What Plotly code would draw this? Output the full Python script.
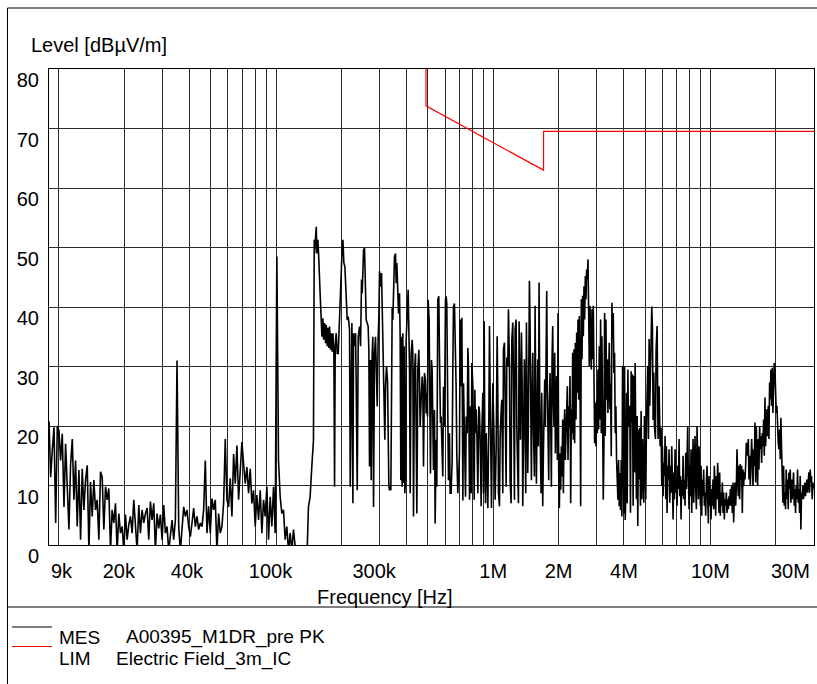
import math
import plotly.graph_objects as go

FONT = "Liberation Sans, Arial, Helvetica, sans-serif"

# ---------------- measurement trace (MES), frequency in kHz, level in dBuV/m ----------------
mes_f1 = [9.00, 9.16, 9.32, 9.49, 9.66, 9.83, 10.00, 10.18, 10.36, 10.55,
          10.73, 10.92, 11.12, 11.31, 11.52, 11.72, 11.93, 12.14, 12.36, 12.58,
          12.80, 13.03, 13.26, 13.50, 13.74, 13.98, 14.23, 14.48, 14.74, 15.00,
          15.27, 15.54, 15.82, 16.10, 16.39, 16.68, 16.97, 17.28, 17.58, 17.89,
          18.21, 18.54, 18.87, 19.20, 19.55, 19.89, 20.25, 20.61, 20.97, 21.35,
          21.73, 22.11, 22.51, 22.91, 23.32, 23.73, 24.15, 24.58, 25.02, 25.47,
          25.92, 26.38, 26.85, 27.33, 27.81, 28.31, 28.81, 29.33, 29.85, 30.38,
          30.92, 31.47, 32.03, 32.60, 33.18, 33.77, 34.37, 34.98, 35.61, 36.24,
          36.88, 37.54, 38.21, 38.89, 39.58, 40.28, 41.00, 41.73, 42.47, 43.23,
          44.00, 44.78, 45.58, 46.39, 47.21, 48.05]
mes_l1 = [20.8, 11.4, 15.9, 19.8, 3.7, 20.0, 19.2, 14.2, 18.7, 6.4,
          17.0, 10.9, 2.6, 13.4, 17.8, 7.6, 14.2, 3.1, 12.6, 0.9,
          12.8, 5.9, 10.9, 13.4, -1, 10.6, 4.8, 10.9, 5.9, 7.6,
          0.9, 12.3, 11.4, 2.6, 9.8, 7.6, 9.5, -1, 5.9, 3.7,
          7.0, -1, 5.3, 2.0, 3.1, -1, 5.1, 0.9, 3.4, 4.8,
          2.0, 7.6, 3.1, -1, 6.7, 2.0, 5.9, 3.7, 5.3, 6.2,
          0.9, 7.3, 4.2, 7.0, -1, 5.3, 2.8, 5.1, 0.9, 6.7,
          2.0, 3.1, -1, 1.4, 4.2, 0.9, 4.2, 31.0, 3.0, -1,
          2.6, 6.4, 4.8, 5.9, 3.1, 1.4, 3.7, 6.2, 3.1, 4.8,
          2.6, 3.7, 3.1, 5.9, 14.2, 2.0]

mes_f2 = [48.90, 49.77, 50.66, 51.56, 52.48, 53.41, 54.36, 55.33, 56.32, 57.32,
          58.34, 59.38, 60.44, 61.51, 62.61, 63.72, 64.86, 66.01, 67.19, 68.38,
          69.60, 70.84, 72.10, 73.38, 74.69, 76.02, 77.37, 78.75, 80.15, 81.58,
          83.03, 84.51, 86.01, 87.54, 89.10, 90.69, 92.30, 93.94, 95.61, 97.31,
          99.05, 100.81, 102.60, 104.43, 106.29, 108.18, 110.10, 112.06, 114.06, 116.09,
          118.15, 120.25, 122.39, 124.57, 126.79, 138.49, 140.96, 143.47, 146.02, 148.62]
mes_l2 = [6.5, 2.0, 7.8, 5.9, 7.6, -1, 5.3, 2.0, 3.1, 7.0,
          17.8, 7.6, 6.4, 11.2, 4.8, 15.3, 10.3, 16.7, 7.6, 13.7,
          17.3, 13.7, 10.3, 13.1, 8.7, 12.8, 7.0, 9.2, 3.1, 8.4,
          4.2, 9.2, 2.0, 7.6, 4.8, 9.8, 0.9, 8.1, 3.1, 9.8,
          2.0, 48.5, 14.2, 8.1, 5.3, 5.9, 0.9, 3.1, -1, 2.0,
          -1, 2.6, -1, -3, -3, -3, 6.4, 8.1, 13.1, 17.6]

mes_f3 = [149.9, 150.4, 152.0, 153.1, 154.2, 155.8, 156.9, 158.6, 159.7, 161.4,
          162.6, 164.3, 165.5, 167.2, 169.0, 170.2, 172.0, 173.2, 175.1, 176.3,
          178.2, 179.4, 181.3, 182.7, 184.6, 185.9, 187.2, 189.2, 191.2, 193.3,
          194.6, 196.0, 199.5, 201.6, 203.1, 205.2, 207.4, 210.4, 212.6, 214.9,
          217.9, 219.5, 221.8, 223.4, 225.8, 227.4, 229.8, 232.3, 233.9, 236.4,
          238.9, 240.6, 242.3, 244.9, 247.5, 249.2, 251.0, 252.8, 255.4, 257.2,
          260.0, 262.8, 265.5, 267.4, 269.3, 272.2, 274.1, 277.0, 279.0, 281.0,
          284.0, 287.0, 289.1, 292.2, 295.3, 297.4, 299.5, 302.7, 305.9, 308.0,
          310.2, 313.5, 316.8, 319.1, 322.5, 326.0, 328.3, 330.6, 332.9, 335.3,
          337.7, 340.1, 342.5, 344.9, 348.6, 351.0, 354.8, 357.3, 359.8, 363.7,
          366.3, 370.1, 372.7, 375.4, 378.0, 380.7, 383.4, 386.1, 388.8, 391.6,
          394.4, 397.2, 401.4, 405.7, 408.6, 411.5, 414.4, 418.8, 423.3, 426.3,
          429.3, 433.9, 438.5, 441.6, 444.8, 449.5, 454.3, 457.5, 460.7, 465.6,
          470.6, 473.9, 477.3, 482.4, 487.5, 491.0, 494.5, 498.0, 501.5, 506.8,
          510.4, 514.0, 519.5, 523.2, 526.9, 530.6, 536.3, 540.1, 545.8, 549.7,
          555.5, 561.4, 565.4, 571.4, 575.5, 581.6, 585.8, 590.0, 596.2, 602.6,
          606.8, 611.1, 617.6, 622.0, 628.6, 633.1, 639.8, 646.6, 651.2, 655.8,
          662.8, 667.5, 674.6, 679.4, 686.6, 693.9, 698.8]
mes_l3 = [51.3, 49.0, 51.8, 53.5, 49.0, 51.3, 49.0, 42.9, 41.8, 37.8,
          35.0, 38.1, 34.5, 37.3, 33.9, 37.0, 33.4, 36.5, 33.1, 36.7,
          32.8, 35.6, 32.5, 35.6, 32.2, 9.8, 33.4, 35.6, 32.2, 32.2,
          35.0, 40.0, 46.8, 50.2, 51.3, 47.4, 46.8, 39.5, 37.8, 38.4,
          36.2, 9.8, 36.7, 37.3, 7.0, 35.6, 33.4, 35.6, 26.6, 9.2,
          35.0, 36.2, 36.7, 33.4, 44.6, 42.3, 46.2, 49.6, 49.9, 44.0,
          37.8, 37.3, 36.7, 32.8, 13.2, 31.1, 10.9, 32.2, 35.0, 6.4,
          32.2, 35.0, 31.1, 23.3, 35.0, 38.4, 46.0, 43.4, 45.7, 39.0,
          32.2, 29.4, 17.7, 26.6, 30.0, 27.7, 11.5, 9.8, 9.2, 9.8,
          9.2, 36.7, 40.0, 37.8, 45.1, 48.5, 49.0, 44.0, 47.4, 40.6,
          38.9, 42.3, 35.0, 10.9, 35.0, 9.8, 35.6, 10.4, 33.4, 8.7,
          10.9, 34.5, 40.6, 42.9, 36.2, 30.0, 8.7, 32.2, 34.5, 32.2,
          4.8, 29.4, 32.2, 22.7, 5.3, 29.4, 32.8, 27.7, 19.9, 24.4,
          28.3, 26.6, 13.2, 28.9, 27.7, 22.1, 25.5, 21.6, 41.2, 37.8,
          22.1, 12.0, 31.1, 29.4, 21.0, 12.6, 22.7, 3.6, 17.7, 9.8,
          41.2, 41.8, 32.2, 20.5, 21.6, 15.4, 11.5, 26.6, 19.9, 41.2,
          41.8, 40.6, 23.8, 10.9, 18.8, 8.7, 8.7, 14.2, 28.9, 40.0,
          40.6, 36.7, 26.6, 15.4, 8.7, 12.0, 15.4]

mes_f4 = [704.5, 712.0, 717.0, 724.7, 729.8, 737.6, 745.4, 750.7, 758.7, 764.1,
          769.5, 777.7, 783.2, 791.5, 797.1, 805.6, 811.3, 817.0, 822.8, 828.6,
          834.5, 840.4, 849.4, 858.4, 864.5, 870.6, 879.9, 886.1, 895.6, 902.0,
          908.3, 914.7, 921.2, 927.7, 937.6, 944.2, 954.3, 961.0, 967.8, 974.7,
          981.6, 988.5, 995.5, 1006.1, 1013.2, 1020.4, 1031.3, 1042.3, 1049.6, 1057.1,
          1068.3, 1075.9, 1087.3, 1095.0, 1106.7, 1114.5, 1126.4, 1134.4, 1146.4, 1154.5,
          1166.8, 1175.1, 1187.6, 1196.0, 1208.7, 1217.3, 1230.2, 1238.9, 1252.1, 1261.0,
          1274.4, 1283.4, 1297.1, 1306.3, 1315.5, 1324.9, 1334.3, 1348.5, 1358.1, 1367.6,
          1377.3, 1391.9, 1401.8, 1411.7, 1421.7, 1431.8, 1441.9, 1452.1, 1467.6, 1478.0,
          1488.4, 1499.0, 1509.6, 1520.3, 1531.1, 1547.3, 1558.3, 1569.3, 1580.5, 1591.6,
          1602.9, 1614.3, 1625.7, 1637.2, 1648.8, 1660.5, 1672.3, 1690.0, 1702.0, 1714.0,
          1726.2, 1738.4, 1750.7, 1763.1, 1775.6, 1788.2, 1800.9, 1813.6, 1826.5, 1839.4,
          1852.5, 1865.6, 1878.7, 1892.0, 1905.4, 1918.9, 1932.5, 1946.2, 1960.0, 1973.9,
          1987.9, 2002.0, 2016.1, 2030.4, 2044.8, 2059.3, 2073.9, 2088.5, 2103.3, 2118.2,
          2133.2, 2148.3, 2163.5, 2178.8, 2194.3, 2209.8, 2225.4, 2241.2, 2257.1, 2273.0,
          2289.2, 2305.4, 2321.7, 2338.2, 2354.7, 2371.4, 2388.2, 2405.1, 2422.1, 2439.3,
          2456.6, 2474.0, 2491.5, 2509.1, 2526.9, 2544.8, 2562.8, 2580.9, 2599.2, 2617.6,
          2636.1, 2654.8, 2673.6, 2692.5, 2711.5, 2730.7, 2750.0, 2769.5, 2789.1, 2808.8,
          2828.7, 2848.7, 2868.9, 2889.2, 2909.6, 2930.2, 2950.9, 2971.8, 2992.9, 3014.0,
          3035.4, 3056.9, 3078.5, 3100.3, 3122.2, 3144.3, 3166.5, 3188.9, 3211.5, 3234.2,
          3257.1, 3280.2, 3303.4, 3326.7, 3350.3, 3374.0, 3397.9, 3421.9, 3446.1, 3470.5,
          3495.1, 3519.8, 3544.7, 3569.8, 3595.0, 3620.5, 3646.1, 3671.9, 3697.9, 3724.0,
          3750.4, 3776.9, 3803.6, 3830.6, 3857.7, 3885.0, 3912.4, 3940.1, 3968.0, 3996.1,
          4024.4, 4052.8, 4081.5, 4110.4, 4139.5, 4168.8, 4198.3]
mes_l4 = [37.9, 26.7, 38.2, 7.5, 27.2, 19.9, 8.1, 21.6, 18.8, 33.1,
          29.5, 7.6, 23.3, 8.7, 30.6, 26.7, 19.9, 7.6, 26.1, 18.8,
          22.8, 19.1, 8.7, 23.3, 22.2, 17.7, 6.5, 18.8, 25.6, 8.7,
          37.6, 16.6, 7.0, 18.8, 9.3, 6.2, 21.1, 36.8, 25.6, 8.7,
          6.2, 16.6, 27.2, 19.9, 8.7, 7.6, 16.0, 35.1, 25.6, 8.7,
          6.5, 18.3, 22.5, 24.4, 8.7, 32.9, 34.0, 23.9, 9.8, 31.5,
          30.1, 39.6, 30.1, 10.9, 7.0, 34.3, 37.4, 28.4, 7.6, 36.2,
          37.9, 19.9, 9.8, 7.0, 37.6, 19.9, 17.7, 35.7, 27.8, 6.5,
          24.4, 31.2, 19.9, 8.7, 37.4, 25.6, 12.1, 21.6, 44.4, 36.8,
          21.1, 10.9, 25.6, 32.3, 19.9, 11.5, 40.2, 24.4, 10.3, 21.1,
          31.2, 16.6, 44.1, 24.4, 13.8, 8.7, 25.6, 6.5, 15.4, 24.4,
          27.8, 19.9, 30.1, 42.7, 25.6, 14.3, 10.9, 24.4, 28.9, 21.1,
          9.8, 31.2, 36.8, 23.9, 19.9, 32.3, 15.4, 24.4, 28.4, 14.3,
          39.0, 12.1, 6.2, 15.4, 9.3, 16.6, 11.5, 21.1, 8.7, 18.8,
          22.8, 14.3, 19.9, 21.6, 26.7, 14.3, 23.3, 19.9, 28.4, 7.0,
          22.8, 18.8, 32.3, 17.7, 32.9, 17.1, 34.0, 21.1, 35.7, 25.6,
          37.9, 24.4, 38.5, 28.4, 6.5, 41.3, 31.2, 41.9, 35.1, 43.5,
          37.9, 45.2, 41.3, 46.3, 44.7, 48.0, 36.8, 30.1, 40.2, 32.3,
          29.5, 39.6, 31.2, 40.2, 24.4, 17.1, 23.9, 16.6, 24.4, 18.8,
          29.5, 19.4, 33.4, 21.1, 37.9, 18.8, 35.1, 18.3, 7.6, 16.6,
          39.0, 18.3, 37.9, 24.4, 31.2, 22.2, 26.1, 34.0, 22.8, 27.2,
          14.9, 40.7, 34.6, 39.0, 28.9, 32.3, 18.8, 23.3, 14.3, 11.5,
          7.6, 14.3, 6.5, 12.1, 5.9, 14.3, 4.8, 30.1, 22.2, 5.3,
          30.1, 4.2, 8.7, 25.6, 7.0, 29.5, 19.9]

mes_f5 = [4255, 4285, 4315, 4346, 4376, 4407, 4439, 4470, 4502, 4534,
          4566, 4599, 4631, 4664, 4697, 4730, 4764, 4797, 4832, 4866,
          4900, 4935, 4970, 5005, 5041, 5076, 5112, 5148, 5185, 5222,
          5259, 5296, 5333, 5371, 5409, 5447, 5486, 5525, 5584, 5623,
          5683, 5743, 5805, 5866, 5929, 5971, 6013, 6055, 6098, 6142,
          6185, 6229, 6273, 6317, 6362, 6407, 6453, 6499, 6545, 6591,
          6638, 6685, 6733, 6780, 6828, 6877, 6925, 6974, 7024, 7073,
          7124, 7174, 7225, 7276, 7327, 7379, 7431, 7484, 7537, 7591,
          7645, 7699, 7753, 7808, 7863, 7919, 7975, 8031, 8088, 8146,
          8204, 8262, 8320, 8379, 8439, 8499, 8559, 8620, 8681, 8742,
          8804, 8866, 8929, 8992, 9056, 9120, 9185, 9250, 9315, 9381,
          9448, 9515, 9582, 9650, 9718, 9787, 9856, 9926, 9996, 10067,
          10138, 10210, 10282, 10355, 10429, 10503, 10577, 10652, 10727, 10803,
          10880, 10957, 11035, 11113, 11192, 11271, 11351, 11431, 11512, 11594,
          11676, 11759, 11842, 11926, 12010, 12095, 12181, 12267, 12354, 12442,
          12530, 12618, 12708, 12798, 12889, 12980, 13072, 13164, 13258, 13352,
          13446, 13541, 13637, 13734, 13831, 13929, 14027, 14127, 14227, 14328,
          14429, 14532, 14635, 14738, 14843, 14948, 15054, 15160, 15268, 15376,
          15485, 15595, 15705, 15816, 15929, 16041, 16155, 16269, 16385, 16501,
          16618, 16736, 16854, 16974, 17094, 17215, 17337, 17460, 17584, 17708,
          17834, 17960, 18087, 18215, 18344, 18474, 18605, 18736, 18869, 19002,
          19137, 19272, 19409, 19547, 19685, 19825, 19965, 20106, 20249, 20392,
          20536, 20682, 20828, 20976, 21124, 21274, 21425, 21576, 21729, 21883,
          22038, 22194, 22351, 22510, 22669, 22830, 22991, 23154, 23318, 23483,
          23649, 23817, 23986, 24155, 24327, 24499, 24672, 24848, 25023, 25200,
          25379, 25559, 25740, 25922, 26105, 26290, 26476, 26664, 26853, 27043,
          27234, 27427, 27622, 27817, 28014, 28213, 28413, 28614, 28817, 29020,
          29226, 29433, 29642, 30000]
mes_l5 = [23.4, 5.4, 29.2, 20.6, 28.7, 6.6, 28.4, 12.2, 30.6, 17.8,
          7.7, 21.7, 3.2, 19.4, 11.0, 19.7, 6.6, 22.5, 7.7, 17.8,
          12.2, 7.1, 21.7, 12.2, 7.7, 20.6, 25.6, 30.1, 17.8, 34.6,
          23.4, 31.8, 31.2, 40.1, 36.3, 21.0, 29.0, 20.0, 17.8, 32.9,
          36.8, 17.8, 26.7, 16.6, 19.7, 9.9, 16.6, 8.2, 13.8, 11.6,
          18.3, 7.7, 16.6, 5.4, 13.3, 11.0, 16.1, 7.1, 13.3, 8.8,
          16.6, 9.9, 4.3, 12.2, 7.7, 16.1, 8.8, 11.0, 6.6, 13.3,
          9.4, 17.8, 8.2, 11.6, 4.3, 11.0, 8.2, 15.0, 7.7, 11.0,
          6.6, 15.5, 9.4, 14.4, 20.0, 11.0, 6.0, 13.3, 8.2, 16.1,
          5.4, 12.2, 17.8, 7.1, 13.3, 18.3, 9.4, 6.0, 20.0, 12.2,
          7.7, 16.6, 9.9, 6.6, 13.3, 4.9, 11.0, 8.2, 12.7, 6.6,
          8.8, 4.9, 10.5, 13.3, 8.2, 3.6, 11.6, 6.6, 10.0, 4.3,
          9.4, 6.6, 11.0, 6.0, 13.3, 8.2, 4.9, 11.6, 7.7, 13.8,
          7.1, 5.4, 12.2, 4.9, 8.8, 6.6, 10.5, 5.4, 8.8, 4.3,
          7.7, 6.6, 8.8, 5.4, 7.7, 6.0, 8.2, 6.6, 9.4, 6.6,
          9.9, 5.4, 10.5, 3.8, 8.2, 10.5, 6.6, 9.4, 16.1, 11.0,
          8.2, 13.3, 7.7, 13.6, 11.0, 13.3, 5.4, 12.7, 9.9, 12.2,
          11.0, 13.3, 17.2, 16.1, 15.0, 17.8, 11.0, 15.0, 9.9, 13.8,
          17.8, 14.4, 9.9, 16.1, 13.3, 20.6, 10.5, 20.0, 13.8, 9.9,
          17.8, 12.7, 20.0, 16.1, 18.3, 13.8, 18.8, 16.6, 21.1, 15.0,
          24.8, 16.6, 20.0, 22.8, 18.3, 23.4, 17.8, 27.3, 24.5, 29.5,
          23.4, 29.8, 22.2, 30.1, 30.6, 29.5, 24.5, 22.2, 23.4, 17.8,
          17.1, 16.1, 19.4, 14.4, 21.4, 16.1, 9.9, 7.1, 13.3, 6.6,
          8.8, 6.0, 12.7, 7.7, 11.0, 6.0, 12.2, 9.4, 12.7, 7.1,
          11.0, 7.7, 9.9, 12.2, 6.6, 9.4, 5.4, 9.9, 7.7, 12.7,
          7.1, 9.4, 5.4, 11.6, 2.6, 8.8, 7.7, 9.9, 7.7, 8.8,
          10.5, 8.2, 9.4, 11.0, 8.8, 9.9, 12.2, 8.8, 12.7, 10.5,
          11.6, 7.7, 10.5, 9.5]

mes_freq_khz = mes_f1 + mes_f2 + mes_f3 + mes_f4 + mes_f5
mes_level = mes_l1 + mes_l2 + mes_l3 + mes_l4 + mes_l5

# ---------------- limit line (LIM) ----------------
lim_freq_khz = [490, 490, 1705, 1705, 30000]
lim_level = [80, 73.8, 63.0, 69.5, 69.5]

# ---------------- axes ----------------
grid_freq_khz = [10, 20, 30, 40, 50, 60, 70, 80, 90,
                 100, 200, 300, 400, 500, 600, 700, 800, 900,
                 1000, 2000, 3000, 4000, 5000, 6000, 7000, 8000, 9000,
                 10000, 20000]
x_tick_labels = {20: "20k&nbsp;&nbsp;", 40: "40k&nbsp;", 100: "100k&nbsp;&nbsp;",
                 300: "300k&nbsp;&nbsp;", 1000: "1M", 2000: "2M", 4000: "4M", 10000: "10M"}
x_edge_labels = [(9, "9k", "left"), (30000, "30M", "right")]
y_ticks = [0, 10, 20, 30, 40, 50, 60, 70, 80]
x_min_khz, x_max_khz = 9, 30000

# page geometry
W, H = 817, 684
ML, MR, MT, MB = 49, 3, 69, 139
PW, PH = W - ML - MR, H - MT - MB


def px_x(px):
    return (px - ML) / PW


def px_y(py):
    return (H - MB - py) / PH


fig = go.Figure()
fig.add_trace(go.Scatter(x=mes_freq_khz, y=mes_level, mode="lines",
                         line=dict(color="#000000", width=1.6),
                         name="MES A00395_M1DR_pre PK", showlegend=False))
fig.add_trace(go.Scatter(x=lim_freq_khz, y=lim_level, mode="lines",
                         line=dict(color="#ff0000", width=1.2),
                         name="LIM Electric Field_3m_IC", showlegend=False))

fig.update_xaxes(type="log",
                 range=[math.log10(x_min_khz), math.log10(x_max_khz)],
                 tickvals=grid_freq_khz,
                 ticktext=[x_tick_labels.get(v, "") for v in grid_freq_khz],
                 ticks="", showgrid=True, gridcolor="#2a2a2a", gridwidth=1,
                 showline=True, mirror=True, linecolor="#000000", linewidth=1,
                 zeroline=False, ticklabelstandoff=8,
                 tickfont=dict(family=FONT, size=20, color="#000000"))
fig.update_yaxes(range=[0, 80], tickvals=y_ticks,
                 ticktext=[str(v) for v in y_ticks],
                 ticks="", showgrid=True, gridcolor="#2a2a2a", gridwidth=1,
                 showline=True, mirror=True, linecolor="#000000", linewidth=1,
                 zeroline=False, ticklabelstandoff=5, ticklabelshift=11,
                 tickfont=dict(family=FONT, size=20, color="#000000"))

ann_font = dict(family=FONT, size=20, color="#000000")
leg_font = dict(family=FONT, size=19, color="#000000")
annotations = [
    dict(text="Level [dBµV/m]", xref="paper", yref="paper", x=px_x(29), y=px_y(45),
         xanchor="left", yanchor="middle", showarrow=False, font=ann_font),
    dict(text="Frequency [Hz]", xref="paper", yref="paper", x=px_x(385), y=px_y(597),
         xanchor="center", yanchor="middle", showarrow=False, font=ann_font),
    dict(text="MES", xref="paper", yref="paper", x=px_x(57), y=px_y(637),
         xanchor="left", yanchor="middle", showarrow=False, font=leg_font),
    dict(text="A00395_M1DR_pre PK", xref="paper", yref="paper", x=px_x(124), y=px_y(637),
         xanchor="left", yanchor="middle", showarrow=False, font=leg_font),
    dict(text="LIM", xref="paper", yref="paper", x=px_x(57), y=px_y(658.5),
         xanchor="left", yanchor="middle", showarrow=False, font=leg_font),
    dict(text="Electric Field_3m_IC", xref="paper", yref="paper", x=px_x(114), y=px_y(658.5),
         xanchor="left", yanchor="middle", showarrow=False, font=leg_font),
]
for f, txt, anchor in x_edge_labels:
    annotations.append(dict(text=txt, xref="x", yref="paper", x=math.log10(f), y=px_y(571),
                            xanchor=anchor, yanchor="middle", showarrow=False,
                            xshift=0 if anchor == "left" else -2, font=ann_font))

line_k = dict(color="#000000", width=1)
shapes = [
    # outer frame (top and left) and legend separator
    dict(type="line", xref="paper", yref="paper", x0=px_x(7.5), x1=px_x(817),
         y0=px_y(8), y1=px_y(8), line=line_k),
    dict(type="line", xref="paper", yref="paper", x0=px_x(7.5), x1=px_x(7.5),
         y0=px_y(8), y1=px_y(684), line=line_k),
    dict(type="line", xref="paper", yref="paper", x0=px_x(7.5), x1=px_x(817),
         y0=px_y(607), y1=px_y(607), line=line_k),
    # legend keys
    dict(type="line", xref="paper", yref="paper", x0=px_x(12), x1=px_x(52),
         y0=px_y(627), y1=px_y(627), line=dict(color="#000000", width=1)),
    dict(type="line", xref="paper", yref="paper", x0=px_x(12), x1=px_x(52),
         y0=px_y(646.5), y1=px_y(646.5), line=dict(color="#ff0000", width=1)),
]

fig.update_layout(width=W, height=H, autosize=False,
                  margin=dict(l=ML, r=MR, t=MT, b=MB, pad=0),
                  paper_bgcolor="#ffffff", plot_bgcolor="#ffffff",
                  font=dict(family=FONT, size=20, color="#000000"),
                  showlegend=False, annotations=annotations, shapes=shapes)

fig.write_html("out.html",
               config={"displayModeBar": False},
               post_script="document.body.style.margin='0px';"
                           "document.body.style.padding='0px';"
                           "document.body.style.overflow='hidden';")
